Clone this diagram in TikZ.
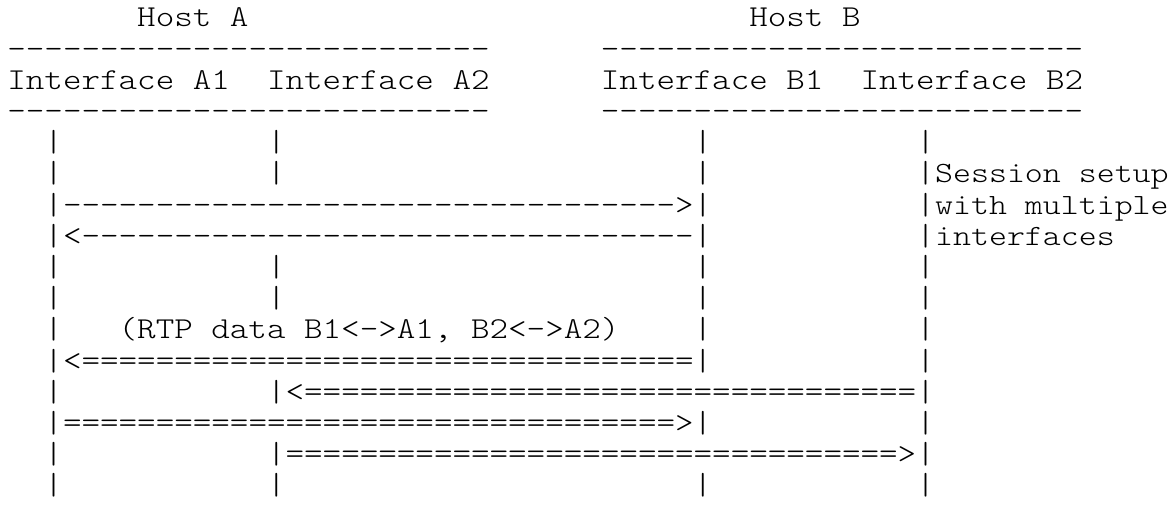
\documentclass[tikz,border=0pt]{standalone}
\newcommand\rp[2]{\foreach \k in {1,...,#1}{#2}}
\newcommand\sq[1]{\scalebox{1}[0.86]{#1}}
\tikzset{
  ln/.style={anchor=base west, inner sep=0pt, outer sep=0pt,
    font=\ttfamily\fontseries{l}\fontsize{35.33}{31.2}\selectfont, text=black},
  side/.style={anchor=base west, inner sep=0pt, outer sep=0pt,
    font=\ttfamily\fontseries{l}\fontsize{34.2}{31.2}\selectfont, text=black}}
\begin{document}
\begin{tikzpicture}[x=1pt,y=1pt]
\useasboundingbox (0,0) rectangle (1170,513);
\def\xo{7.4}
\def\pp{31.2}
\def\xs{935.2}
\node[ln] (r1) at (\xo,486) {\sq{\rp{7}{~}Host~A\rp{27}{~}Host~B}};
\node[ln] (r2) at (\xo,486-\pp) {\sq{\rp{26}{-}\rp{6}{~}\rp{26}{-}}};
\node[ln] (r3) at (\xo,486-2*\pp) {\sq{Interface~A1~~Interface~A2\rp{6}{~}Interface~B1~~Interface~B2}};
\node[ln] (r4) at (\xo,486-3*\pp) {\sq{\rp{26}{-}\rp{6}{~}\rp{26}{-}}};
\node[ln] (r5) at (\xo,486-4*\pp) {\sq{~~|\rp{11}{~}|\rp{22}{~}|\rp{11}{~}|}};
\node[ln] (r6) at (\xo,486-5*\pp) {\sq{~~|\rp{11}{~}|\rp{22}{~}|\rp{11}{~}|}};
\node[side] (s6) at (\xs,486-5*\pp) {\sq{Session~setup}};
\node[ln] (r7) at (\xo,486-6*\pp) {\sq{~~|\rp{33}{-}>|\rp{11}{~}|}};
\node[side] (s7) at (\xs,486-6*\pp) {\sq{with~multiple}};
\node[ln] (r8) at (\xo,486-7*\pp) {\sq{~~|<\rp{33}{-}|\rp{11}{~}|}};
\node[side] (s8) at (\xs,486-7*\pp) {\sq{interfaces}};
\node[ln] (r9) at (\xo,486-8*\pp) {\sq{~~|\rp{11}{~}|\rp{22}{~}|\rp{11}{~}|}};
\node[ln] (r10) at (\xo,486-9*\pp) {\sq{~~|\rp{11}{~}|\rp{22}{~}|\rp{11}{~}|}};
\node[ln] (r11) at (\xo,486-10*\pp) {\sq{~~|~~~(RTP~data~B1<->A1,~B2<->A2)~~~~|\rp{11}{~}|}};
\node[ln] (r12) at (\xo,486-11*\pp) {\sq{~~|<\rp{33}{=}|\rp{11}{~}|}};
\node[ln] (r13) at (\xo,486-12*\pp) {\sq{~~|\rp{11}{~}|<\rp{33}{=}|}};
\node[ln] (r14) at (\xo,486-13*\pp) {\sq{~~|\rp{33}{=}>|\rp{11}{~}|}};
\node[ln] (r15) at (\xo,486-14*\pp) {\sq{~~|\rp{11}{~}|\rp{33}{=}>|}};
\node[ln] (r16) at (\xo,486-15*\pp) {\sq{~~|\rp{11}{~}|\rp{22}{~}|\rp{11}{~}|}};
\end{tikzpicture}
\end{document}
